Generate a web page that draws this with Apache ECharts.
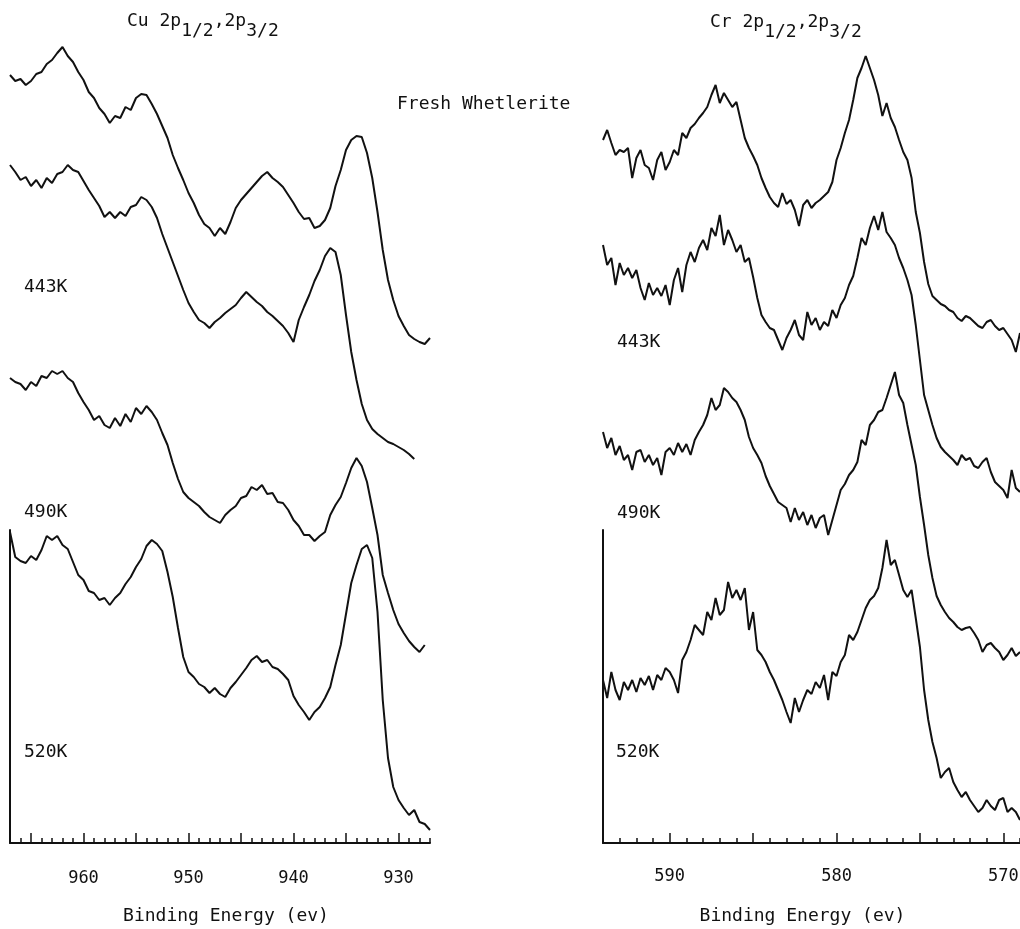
<!DOCTYPE html>
<html>
<head>
<meta charset="utf-8">
<script src="https://cdn.jsdelivr.net/npm/echarts@6/dist/echarts.min.js"></script>
<style>
html,body{margin:0;padding:0;background:#fff;}
#chart{width:1020px;height:929px;}
</style>
</head>
<body>
<div id="chart"></div>
<script>
// ---------- DATA ----------
// Cu 2p binding energies (eV)
const cuEnergy = [967,966.5,966,965.5,965,964.5,964,963.5,963,962.5,962,961.5,961,960.5,960,959.5,959,958.5,958,957.5,957,956.5,956,955.5,955,954.5,954,953.5,953,952.5,952,951.5,951,950.5,950,949.5,949,948.5,948,947.5,947,946.5,946,945.5,945,944.5,944,943.5,943,942.5,942,941.5,941,940.5,940,939.5,939,938.5,938,937.5,937,936.5,936,935.5,935,934.5,934,933.5,933,932.5,932,931.5,931,930.5,930,929.5,929,928.5,928,927.5,927];
// Intensities (arbitrary units, stacked offsets as plotted)
const cuFresh = [768,762,764,758,762,769,771,779,783,790,
  796,787,781,771,763,751,745,735,729,720,
  727,725,736,733,745,749,748,739,729,717,
  705,688,675,663,650,640,628,619,615,607,
  615,609,621,635,643,649,655,661,667,671,
  665,661,656,648,640,631,624,625,615,617,
  623,635,657,673,693,703,707,706,690,665,
  631,593,563,543,527,517,508,504,501,499,
  505];
const cu443 = [678,671,663,666,657,663,655,665,660,669,
  671,678,673,671,662,653,645,637,626,631,
  625,631,627,636,638,646,643,636,625,609,
  595,581,567,553,540,531,523,520,515,521,
  525,530,534,538,545,551,546,541,537,531,
  527,522,517,510,501,523,536,548,562,573,
  587,595,591,568,528,491,463,439,423,414,
  409,405,401,399,396,393,389,384,null,null,
  null];
const cu490 = [465,461,459,453,461,457,467,465,472,469,
  472,465,461,450,441,433,423,427,418,415,
  425,417,429,421,435,429,437,431,423,410,
  398,380,364,351,345,341,337,331,326,323,
  320,328,333,337,345,347,356,353,358,349,
  350,341,340,333,323,317,308,308,302,307,
  311,328,338,346,360,375,385,377,361,335,
  308,268,250,233,219,210,202,196,191,198,
  null];
const cu520 = [311,286,282,280,287,283,293,307,303,307,
  298,294,281,268,263,252,250,243,245,238,
  245,250,259,266,276,284,297,303,299,292,
  271,246,215,186,171,166,159,156,150,155,
  149,146,155,161,168,175,183,187,181,183,
  176,174,169,163,147,138,131,123,131,136,
  145,156,178,198,229,260,278,294,298,285,
  231,143,85,56,43,35,28,33,21,19,
  13];

// Cr 2p binding energies (eV)
const crEnergy = [594,593.75,593.5,593.25,593,592.75,592.5,592.25,592,591.75,591.5,591.25,591,590.75,590.5,590.25,590,589.75,589.5,589.25,589,588.75,588.5,588.25,588,587.75,587.5,587.25,587,586.75,586.5,586.25,586,585.75,585.5,585.25,585,584.75,584.5,584.25,584,583.75,583.5,583.25,583,582.75,582.5,582.25,582,581.75,581.5,581.25,581,580.75,580.5,580.25,580,579.75,579.5,579.25,579,578.75,578.5,578.25,578,577.75,577.5,577.25,577,576.75,576.5,576.25,576,575.75,575.5,575.25,575,574.75,574.5,574.25,574,573.75,573.5,573.25,573,572.75,572.5,572.25,572,571.75,571.5,571.25,571,570.75,570.5,570.25,570,569.75,569.5,569.25,569];
const crFresh = [703,713,700,688,693,691,695,665,685,693,
  678,675,663,683,691,673,681,693,688,710,
  705,715,719,725,730,736,748,758,740,750,
  743,736,741,723,705,695,687,678,665,655,
  646,640,636,650,639,643,633,617,638,643,
  635,640,643,647,651,661,683,695,710,723,
  743,765,775,787,775,763,748,727,740,725,
  716,703,691,683,665,631,610,581,559,547,
  543,539,537,533,531,525,522,527,525,521,
  517,515,521,523,517,513,515,509,503,491,
  510];
const cr443 = [598,578,585,558,580,568,575,565,573,555,
  543,560,548,555,547,558,538,563,575,551,
  578,591,581,595,603,593,615,607,628,598,
  613,603,591,598,581,585,566,545,528,521,
  515,513,503,493,505,513,523,508,503,531,
  518,525,513,521,517,533,525,538,545,558,
  567,585,605,598,615,627,613,631,611,605,
  598,585,575,563,548,518,483,448,433,418,
  405,396,391,387,383,378,388,383,385,377,
  375,381,385,371,361,357,353,345,373,355,
  351];
const cr490 = [411,395,405,388,397,383,388,373,391,393,
  381,388,378,385,368,391,395,388,400,391,
  399,388,403,411,418,428,445,433,438,455,
  451,445,441,433,423,406,395,388,380,367,
  357,349,341,338,335,321,335,323,331,318,
  328,315,325,328,308,323,338,353,359,368,
  373,381,403,398,418,423,431,433,445,458,
  471,448,440,418,398,378,346,318,288,265,
  247,238,231,225,221,216,213,215,216,210,
  203,191,198,200,195,191,183,188,195,187,
  191];
const cr520 = [163,145,171,153,143,161,153,163,151,165,
  158,167,153,168,163,175,171,163,150,183,
  191,203,218,213,208,231,223,245,228,233,
  261,245,253,243,255,213,231,193,188,181,
  171,163,153,143,131,120,145,131,143,153,
  149,161,155,168,143,171,167,181,188,208,
  203,211,223,235,243,247,255,275,303,278,
  283,268,253,246,253,225,196,153,123,101,
  85,65,71,75,61,53,46,51,43,37,
  31,35,43,37,33,43,45,31,35,31,
  23];

// Tick values / labels
const cuMinorTicks = [927,928,929,930,931,932,933,934,935,936,937,938,939,940,941,942,943,944,945,946,947,948,949,950,951,952,953,954,955,956,957,958,959,960,961,962,963,964,965,966,967];
const cuMajorTicks = [930,935,940,945,950,955,960,965];
const cuTickLabels = [930,940,950,960];
const crMinorTicks = [569,570,571,572,573,574,575,576,577,578,579,580,581,582,583,584,585,586,587,588,589,590,591,592,593,594];
const crMajorTicks = [570,575,580,585,590];
const crTickLabels = [570,580,590];

const seriesNames = ['Fresh Whetlerite', '443K', '490K', '520K'];
const xTitle = 'Binding Energy (ev)';

// ---------- CHART ----------
const FONT = 'DejaVu Sans Mono';
const INK = '#111';
function pairs(xs, ys) {
  const out = [];
  for (let i = 0; i < xs.length; i++) if (ys[i] != null) out.push([xs[i], ys[i]]);
  return out;
}
function spec(name, xs, ys, xi, yi) {
  return {
    type: 'line', name: name, xAxisIndex: xi, yAxisIndex: yi,
    data: pairs(xs, ys), showSymbol: false, symbol: 'none',
    lineStyle: { color: INK, width: 2 }, silent: true, animation: false
  };
}
const hiddenX = (min, max, gi) => ({ type: 'value', gridIndex: gi, min, max, inverse: true, show: false });
const hiddenY = (gi, max) => ({ type: 'value', gridIndex: gi, min: 0, max: max, show: false });
const gridBase = { outerBoundsMode: 'none', containLabel: false };

const chart = echarts.init(document.getElementById('chart'), null, { renderer: 'canvas' });
chart.setOption({
  backgroundColor: '#fff',
  animation: false,
  grid: [
    Object.assign({ left: 10, right: 590, top: 0, bottom: 86 }, gridBase),
    Object.assign({ left: 10, right: 590, top: 530, bottom: 86 }, gridBase),
    Object.assign({ left: 603, right: 0, top: 0, bottom: 86 }, gridBase),
    Object.assign({ left: 603, right: 0, top: 530, bottom: 86 }, gridBase)
  ],
  xAxis: [
    hiddenX(927, 967, 0),
    { type: 'value', gridIndex: 1, min: 927, max: 967, inverse: true, position: 'bottom',
      axisLine: { show: true, lineStyle: { color: INK, width: 2 } },
      axisTick: { show: true, inside: true, length: 5, lineStyle: { color: INK, width: 1.5 }, customValues: cuMinorTicks },
      axisLabel: { show: true, margin: 27, color: INK, fontFamily: FONT, fontSize: 17, customValues: cuTickLabels },
      splitLine: { show: false },
      name: xTitle, nameLocation: 'middle', nameGap: 64,
      nameTextStyle: { color: INK, fontFamily: FONT, fontSize: 18, padding: [0, 0, 0, 12] } },
    { type: 'value', gridIndex: 1, min: 927, max: 967, inverse: true, position: 'bottom',
      axisLine: { show: false },
      axisTick: { show: true, inside: true, length: 10, lineStyle: { color: INK, width: 1.5 }, customValues: cuMajorTicks },
      axisLabel: { show: false }, splitLine: { show: false } },
    hiddenX(569, 594, 2),
    { type: 'value', gridIndex: 3, min: 569, max: 594, inverse: true, position: 'bottom',
      axisLine: { show: true, lineStyle: { color: INK, width: 2 } },
      axisTick: { show: true, inside: true, length: 5, lineStyle: { color: INK, width: 1.5 }, customValues: crMinorTicks },
      axisLabel: { show: true, margin: 25, color: INK, fontFamily: FONT, fontSize: 17, customValues: crTickLabels },
      splitLine: { show: false },
      name: xTitle, nameLocation: 'middle', nameGap: 64,
      nameTextStyle: { color: INK, fontFamily: FONT, fontSize: 18, padding: [0, 18, 0, 0] } },
    { type: 'value', gridIndex: 3, min: 569, max: 594, inverse: true, position: 'bottom',
      axisLine: { show: false },
      axisTick: { show: true, inside: true, length: 10, lineStyle: { color: INK, width: 1.5 }, customValues: crMajorTicks },
      axisLabel: { show: false }, splitLine: { show: false } }
  ],
  yAxis: [
    hiddenY(0, 843),
    { type: 'value', gridIndex: 1, min: 0, max: 313,
      axisLine: { show: true, lineStyle: { color: INK, width: 2 } },
      axisTick: { show: false }, axisLabel: { show: false }, splitLine: { show: false } },
    hiddenY(2, 843),
    { type: 'value', gridIndex: 3, min: 0, max: 313,
      axisLine: { show: true, lineStyle: { color: INK, width: 2 } },
      axisTick: { show: false }, axisLabel: { show: false }, splitLine: { show: false } }
  ],
  series: [
    spec('Cu ' + seriesNames[0], cuEnergy, cuFresh, 0, 0),
    spec('Cu ' + seriesNames[1], cuEnergy, cu443, 0, 0),
    spec('Cu ' + seriesNames[2], cuEnergy, cu490, 0, 0),
    spec('Cu ' + seriesNames[3], cuEnergy, cu520, 0, 0),
    spec('Cr ' + seriesNames[0], crEnergy, crFresh, 3, 2),
    spec('Cr ' + seriesNames[1], crEnergy, cr443, 3, 2),
    spec('Cr ' + seriesNames[2], crEnergy, cr490, 3, 2),
    spec('Cr ' + seriesNames[3], crEnergy, cr520, 3, 2)
  ],
  graphic: [
    { type: 'text', left: 127, top: 12, style: {
        text: '{a|Cu 2p}{s|1/2}{a|,2p}{s|3/2}', fill: INK,
        rich: { a: { fontFamily: FONT, fontSize: 18, fill: INK, padding: [0, 0, 10, 0] },
                s: { fontFamily: FONT, fontSize: 18, fill: INK, padding: [10, 0, 0, 0] } } } },
    { type: 'text', left: 710, top: 13, style: {
        text: '{a|Cr 2p}{s|1/2}{a|,2p}{s|3/2}', fill: INK,
        rich: { a: { fontFamily: FONT, fontSize: 18, fill: INK, padding: [0, 0, 10, 0] },
                s: { fontFamily: FONT, fontSize: 18, fill: INK, padding: [10, 0, 0, 0] } } } },
    { type: 'text', x: 397, y: 104, style: { text: seriesNames[0], fill: INK, font: '18px "DejaVu Sans Mono"', verticalAlign: 'middle' } },
    { type: 'text', x: 24, y: 287, style: { text: seriesNames[1], fill: INK, font: '18px "DejaVu Sans Mono"', verticalAlign: 'middle' } },
    { type: 'text', x: 24, y: 512, style: { text: seriesNames[2], fill: INK, font: '18px "DejaVu Sans Mono"', verticalAlign: 'middle' } },
    { type: 'text', x: 24, y: 752, style: { text: seriesNames[3], fill: INK, font: '18px "DejaVu Sans Mono"', verticalAlign: 'middle' } },
    { type: 'text', x: 617, y: 342, style: { text: seriesNames[1], fill: INK, font: '18px "DejaVu Sans Mono"', verticalAlign: 'middle' } },
    { type: 'text', x: 617, y: 513, style: { text: seriesNames[2], fill: INK, font: '18px "DejaVu Sans Mono"', verticalAlign: 'middle' } },
    { type: 'text', x: 616, y: 752, style: { text: seriesNames[3], fill: INK, font: '18px "DejaVu Sans Mono"', verticalAlign: 'middle' } }
  ]
});
</script>
</body>
</html>
